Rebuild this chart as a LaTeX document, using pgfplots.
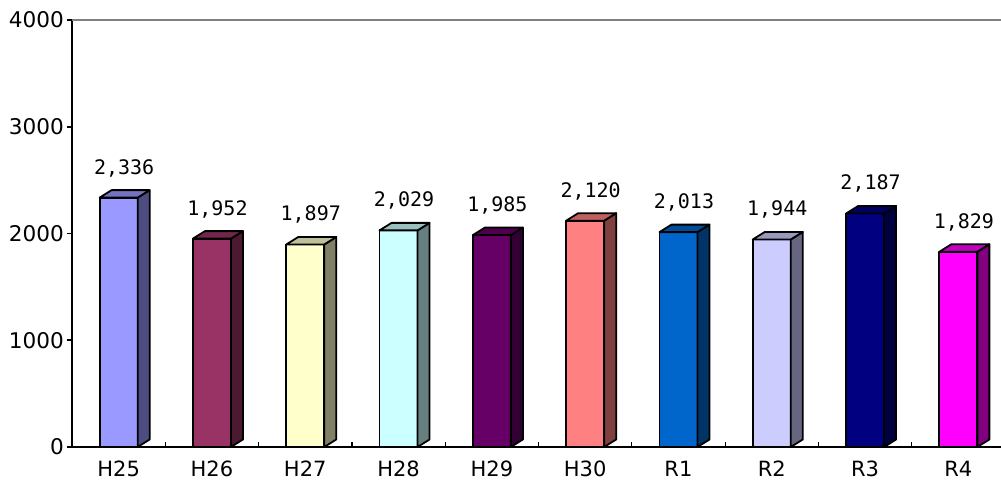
\documentclass[border=0pt]{standalone}
\usepackage{pgfplots}
\pgfplotsset{compat=1.18}
\usepackage{pgfplotstable}
\usepackage{fontspec}
\setmainfont{DejaVu Sans}
\newfontfamily\valfont{DejaVu Sans Mono}

% front-face colours, one per year
\definecolor{bar0}{HTML}{9999FF}
\definecolor{bar1}{HTML}{993366}
\definecolor{bar2}{HTML}{FFFFCC}
\definecolor{bar3}{HTML}{CCFFFF}
\definecolor{bar4}{HTML}{660066}
\definecolor{bar5}{HTML}{FF8080}
\definecolor{bar6}{HTML}{0066CC}
\definecolor{bar7}{HTML}{CCCCFF}
\definecolor{bar8}{HTML}{000080}
\definecolor{bar9}{HTML}{FF00FF}

\pgfplotstableread{
idx value
0 2336
1 1952
2 1897
3 2029
4 1985
5 2120
6 2013
7 1944
8 2187
9 1829
}\counts

% empty mark: the box is drawn by the scatter code
\pgfdeclareplotmark{blank}{}

\begin{document}
\begin{tikzpicture}
\useasboundingbox (-36pt,-16pt) rectangle (464.5pt,223.5pt);
\begin{axis}[
  at={(0,0)}, anchor=south west,
  x=46.65pt, y=0.053375pt,
  xmin=-0.5, xmax=9.46, ymin=0, ymax=4000,
  axis x line*=bottom, axis y line*=left,
  axis line style={black, line width=0.9pt, -},
  clip=false,
  tick align=outside,
  major tick length=2.5pt,
  minor tick length=2.5pt,
  xtick={0,...,9},
  xticklabels={H25,H26,H27,H28,H29,H30,R1,R2,R3,R4},
  minor xtick={0.5,1.5,...,8.5},
  major x tick style={draw=none},
  minor x tick style={black, line width=0.6pt, yshift=2.5pt},
  ytick={0,1000,2000,3000,4000},
  y tick style={black, line width=0.8pt},
  /pgf/number format/assume math mode=true,
  yticklabel style={/pgf/number format/1000 sep={}, font=\fontsize{10.8}{12}\selectfont, xshift=2pt},
  xticklabel style={font=\fontsize{10.5}{12}\selectfont, yshift=-1pt},
]
% boxes: front face, side face and top face of each bar
\addplot[
  scatter, only marks, mark=blank,
  visualization depends on={value \coordindex \as \barid},
  visualization depends on={rawy \as \ry},
  scatter/@pre marker code/.code={%
    \pgfmathsetlengthmacro\h{\ry*0.053375pt}%
    \filldraw[fill=bar\barid, draw=black, line width=0.9pt, line join=round] (-9.5pt,-\h) rectangle (9.5pt,0pt);
    \filldraw[fill=bar\barid!50!black, draw=black, line width=0.9pt, line join=round] (9.5pt,-\h) -- (15.5pt,-\h+3.75pt) -- (15.5pt,3.75pt) -- (9.5pt,0pt) -- cycle;
    \filldraw[fill=bar\barid!75!black, draw=black, line width=0.9pt, line join=round] (-9.5pt,0pt) -- (-3.5pt,3.75pt) -- (15.5pt,3.75pt) -- (9.5pt,0pt) -- cycle;
  },
  scatter/@post marker code/.code={},
] table[x=idx, y=value] {\counts};
% value labels
\addplot[
  only marks, mark=blank,
  point meta=rawy,
  nodes near coords={\pgfmathprintnumber[fixed,precision=0,1000 sep={,}]{\pgfplotspointmeta}},
  nodes near coords style={anchor=base, xshift=2.75pt, yshift=11.8pt, font=\valfont\fontsize{10}{12}\selectfont, text=black},
] table[x=idx, y=value] {\counts};
\draw[gray, line width=1pt] (rel axis cs:0,1) -- (rel axis cs:1,1);
\end{axis}
\end{tikzpicture}
\end{document}
